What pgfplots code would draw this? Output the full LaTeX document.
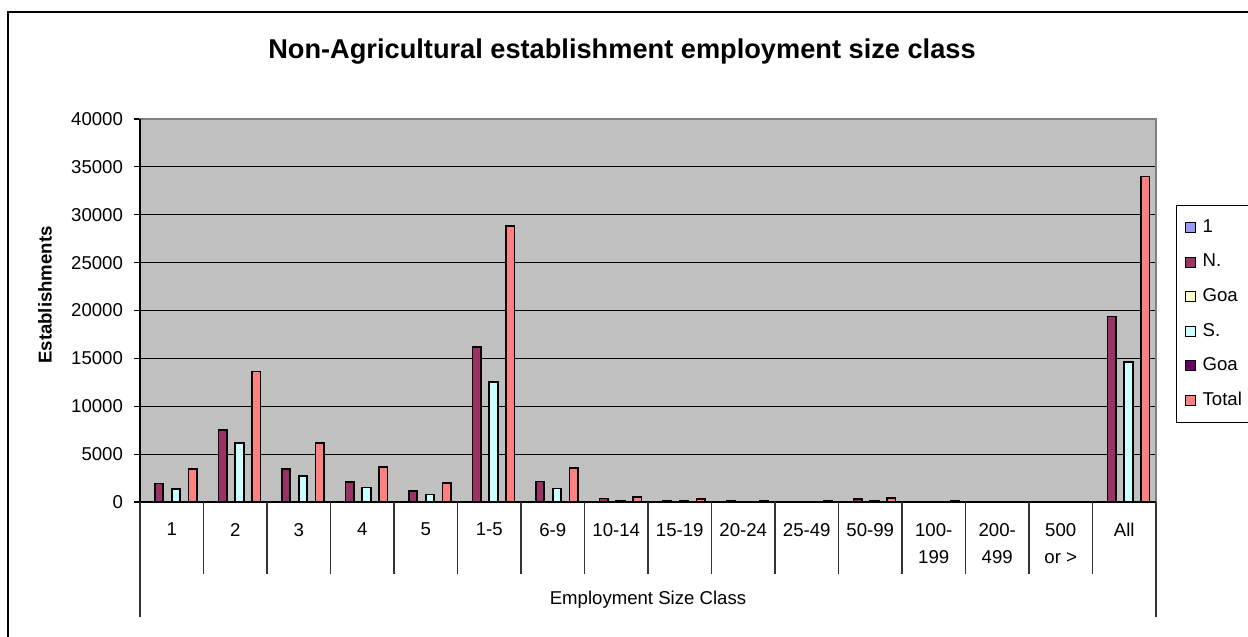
\documentclass[border=0pt]{standalone}
\usepackage{fontspec}
\setmainfont{Liberation Sans}
\usepackage{pgfplots}
\usepackage{pgfplotstable}
\pgfplotsset{compat=1.18}

\definecolor{plotbg}{HTML}{C0C0C0}
\definecolor{serOne}{HTML}{9999FF}
\definecolor{serN}{HTML}{993366}
\definecolor{serGoaA}{HTML}{FFFFCC}
\definecolor{serS}{HTML}{CCFFFF}
\definecolor{serGoaB}{HTML}{660066}
\definecolor{serTot}{HTML}{FF8080}

\newcommand\chartfont{\fontsize{9.3}{13.5}\selectfont}

% establishments by employment size class (0..15 = 1,2,3,4,5,1-5,...,All)
\pgfplotstableread{
x  one  north goaa south goab total
0  0    1950  0    1360  0    3450
1  0    7500  0    6150  0    13650
2  0    3450  0    2700  0    6150
3  0    2100  0    1530  0    3630
4  0    1180  0    790   0    1970
5  0    16180 0    12530 0    28850
6  0    2130  0    1390  0    3520
7  0    350   0    100   0    550
8  0    120   0    120   0    300
9  0    100   0    0     0    110
10 0    0     0    0     0    100
11 0    300   0    100   0    400
12 0    0     0    0     0    100
13 0    0     0    0     0    0
14 0    0     0    0     0    0
15 0    19380 0    14620 0    34000
}\estab

\begin{document}
\begin{tikzpicture}
\begin{axis}[
    scale only axis,
    width=508pt, height=191.5pt,
    ybar, bar width=0.1333,
    xmin=-0.5, xmax=15.5,
    ymin=0, ymax=40000,
    ytick={0,5000,...,40000},
    scaled y ticks=false,
    xtick={0,...,15},
    xticklabels={1,2,3,4,5,1-5,6-9,10-14,15-19,20-24,25-49,50-99,{100-\\199},{200-\\499},{500\\or >},All},
    xtick style={draw=none},
    ytick style={black, line width=0.6pt},
    tick align=outside, tick pos=left, major tick length=3pt,
    xticklabel style={font=\chartfont, align=center, anchor=north, yshift=-4pt},
    yticklabel style={font=\chartfont, xshift=-2pt},
    /pgf/number format/1000 sep={},
    /pgf/number format/assume math mode=true,
    ymajorgrids, grid style={black, line width=0.5pt},
    axis background/.style={fill=plotbg},
    axis line style={draw=gray, line width=0.6pt},
    clip=false,
    xlabel={Employment Size Class},
    xlabel style={font=\chartfont, at={(rel axis cs:0.5,0)}, anchor=center, yshift=-49pt},
    legend style={at={(rel axis cs:1,1)}, anchor=north west, xshift=10pt, yshift=-43pt,
        draw=black, line width=0.6pt, fill=white, font=\chartfont,
        inner xsep=4pt, inner ysep=6.6pt, row sep=8.6pt,
        nodes={inner sep=0pt, text height=6.7pt, text depth=2pt, anchor=west}},
    legend cell align=left,
    legend image code/.code={\draw[#1, line width=0.5pt] (0pt,-2.5pt) rectangle (5pt,2.5pt);},
    /tikz/every odd column/.append style={column sep=3.5pt},
]
\addplot[fill=serOne,  draw=black, line width=0.8pt, bar shift=-0.3333] table[x=x, y=one]   {\estab};
\addplot[fill=serN,    draw=black, line width=0.8pt, bar shift=-0.2]    table[x=x, y=north] {\estab};
\addplot[fill=serGoaA, draw=black, line width=0.8pt, bar shift=-0.0667] table[x=x, y=goaa]  {\estab};
\addplot[fill=serS,    draw=black, line width=0.8pt, bar shift=0.0667]  table[x=x, y=south] {\estab};
\addplot[fill=serGoaB, draw=black, line width=0.8pt, bar shift=0.2]     table[x=x, y=goab]  {\estab};
\addplot[fill=serTot,  draw=black, line width=0.8pt, bar shift=0.3333]  table[x=x, y=total] {\estab};
\legend{1, N., Goa, S., Goa, Total}

% axis lines and the two-level category grid below the plot
\draw[black, line width=0.8pt] (rel axis cs:0,1) -- (rel axis cs:0,0) -- (rel axis cs:1,0);
\pgfplotsinvokeforeach{0.5,1.5,...,14.5}{
    \draw[black!80, line width=0.6pt] (axis cs:#1,0) -- ++(0pt,-36pt);
}
\draw[black!80, line width=0.6pt] (rel axis cs:0,0) -- ++(0pt,-57.5pt);
\draw[black!80, line width=0.6pt] (rel axis cs:1,0) -- ++(0pt,-57.5pt);
\coordinate (O) at (rel axis cs:0,0);
\end{axis}
\node[font=\fontsize{13.6}{16}\selectfont\bfseries] at ([shift={(241pt,225pt)}]O) {Non-Agricultural establishment employment size class};
\node[font=\chartfont\bfseries, rotate=90] at ([shift={(-47.5pt,103.5pt)}]O) {Establishments};
\pgfresetboundingbox
\path ([shift={(-70pt,-67.5pt)}]O) rectangle ([shift={(554pt,251pt)}]O);
\draw[overlay, line width=1.2pt] ([shift={(-66pt,-72pt)}]O) rectangle ([shift={(558pt,245pt)}]O);
\end{tikzpicture}
\end{document}
